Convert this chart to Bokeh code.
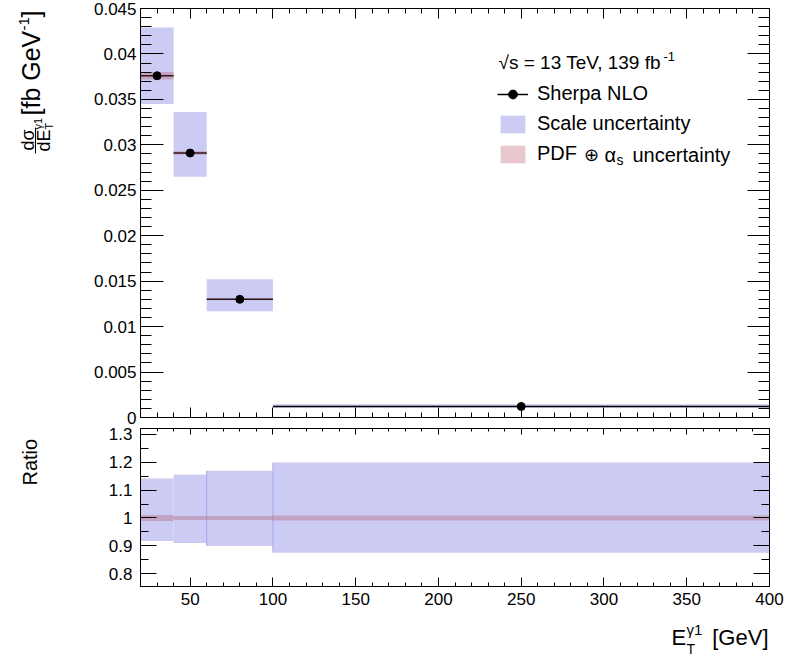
import numpy as np
from math import pi
from bokeh.plotting import figure
from bokeh.models import (Range1d, FixedTicker, LinearAxis, Label, Legend,
                          LegendItem, Arrow)
from bokeh.layouts import column, row
from bokeh.embed import file_html
from bokeh.resources import INLINE

# ---------------- data ----------------
bin_lo = [20, 40, 60, 100]
bin_hi = [40, 60, 100, 400]
bin_centre = [30, 50, 80, 250]
sherpa_nlo = [0.0376, 0.0291, 0.0130, 0.00121]
scale_up = [0.0429, 0.0336, 0.0152, 0.00145]
scale_down = [0.0345, 0.0265, 0.0117, 0.00106]
pdf_rel = [0.011, 0.007, 0.007, 0.009]

x_ticks = [50, 100, 150, 200, 250, 300, 350, 400]
x_tick_labels = ["50", "100", "150", "200", "250", "300", "350", "400"]
y_ticks_top = [0, 0.005, 0.01, 0.015, 0.02, 0.025, 0.03, 0.035, 0.04, 0.045]
y_tick_labels_top = ["0", "0.005", "0.01", "0.015", "0.02", "0.025", "0.03",
                     "0.035", "0.04", "0.045"]
ratio_ticks = [0.8, 0.9, 1.0, 1.1, 1.2, 1.3]
ratio_tick_labels = ["0.8", "0.9", "1", "1.1", "1.2", "1.3"]

FONT = "Liberation Sans"
SCALE_COL = "#cbcbf3"
SCALE_EDGE = "#a6a6ec"
PDF_COL = "#b24855"
PDF_ALPHA = 0.3

nom = np.array(sherpa_nlo)
pdf_lo = nom * (1 - np.array(pdf_rel))
pdf_hi = nom * (1 + np.array(pdf_rel))
r_up = np.array(scale_up) / nom
r_dn = np.array(scale_down) / nom
r_pdf_lo = 1 - np.array(pdf_rel)
r_pdf_hi = 1 + np.array(pdf_rel)

x_minor = [v for v in range(30, 400, 10) if v % 50 != 0]
y_minor_top = [round(v * 0.001, 3) for v in range(1, 45) if v % 5 != 0]
ratio_minor = [0.75, 0.85, 0.95, 1.05, 1.15, 1.25]

xr = Range1d(20, 400)

STRIP_W = 60          # left strip holding the rotated titles
MAIN_W = 726          # width of the two panels
FRAME_L = 140         # page x of frame left
TOP_H = 426
RAT_H = 190
BOT_H = 44
TOP_FB = 417          # page y of top frame bottom


def make_axis(ticks, minor, labels, tick_in, minor_in, show, size="18px", standoff=4):
    ax = LinearAxis(ticker=FixedTicker(ticks=ticks, minor_ticks=minor))
    ax.major_tick_in = tick_in
    ax.major_tick_out = 0
    ax.minor_tick_in = minor_in
    ax.minor_tick_out = 0
    ax.axis_line_color = "black"
    ax.major_tick_line_color = "black"
    ax.minor_tick_line_color = "black"
    ax.axis_label = None
    ax.major_label_text_font = FONT
    ax.major_label_text_color = "black"
    if show:
        ax.major_label_overrides = {t: l for t, l in zip(ticks, labels)}
        ax.major_label_text_font_size = size
        ax.major_label_standoff = standoff
    else:
        ax.major_label_overrides = {t: "" for t in ticks}
        ax.major_label_text_font_size = "1px"
        ax.major_label_standoff = 0
    return ax


def lab(p, ox, fb, text, px, py, size, angle=0.0, align="left"):
    """px, py: page position of the text start (or end) and its vertical middle."""
    p.add_layout(Label(x=px - ox, y=fb - py, x_units="screen", y_units="screen",
                       text=text, angle=angle, text_font=FONT,
                       text_font_size=f"{size}px", text_align=align,
                       text_baseline="middle", text_color="black"))


def blank_fig(w, h):
    f = figure(width=w, height=h, x_range=Range1d(0, 1), y_range=Range1d(0, 1),
               output_backend="svg", toolbar_location=None,
               x_axis_location=None, y_axis_location=None,
               min_border_left=0, min_border_right=0,
               min_border_top=0, min_border_bottom=0)
    f.outline_line_color = None
    f.grid.visible = False
    return f


# ---------------- top panel ----------------
p1 = figure(width=MAIN_W, height=TOP_H, x_range=xr, y_range=Range1d(0, 0.045),
            output_backend="svg", toolbar_location=None,
            x_axis_location=None, y_axis_location=None,
            min_border_left=FRAME_L - STRIP_W, min_border_right=17,
            min_border_top=8, min_border_bottom=9)
p1.grid.visible = False
p1.outline_line_color = "black"

p1.add_layout(make_axis(y_ticks_top, y_minor_top, y_tick_labels_top, 23, 11, True, "17px", 4), "left")
p1.add_layout(make_axis(y_ticks_top, y_minor_top, y_tick_labels_top, 22, 11, False), "right")
p1.add_layout(make_axis(x_ticks, x_minor, x_tick_labels, 10, 5, False), "below")
p1.add_layout(make_axis(x_ticks, x_minor, x_tick_labels, 10, 5, False), "above")

r_scale = p1.quad(left=bin_lo, right=bin_hi, bottom=scale_down, top=scale_up,
                  fill_color=SCALE_COL, line_color=None)
r_seg = p1.segment(x0=bin_lo, y0=sherpa_nlo, x1=bin_hi, y1=sherpa_nlo,
                   line_color="black", line_width=1.5)
r_pdf = p1.quad(left=bin_lo, right=bin_hi, bottom=pdf_lo, top=pdf_hi,
                fill_color=PDF_COL, fill_alpha=PDF_ALPHA, line_color=None)
r_pt = p1.scatter(x=bin_centre, y=sherpa_nlo, size=8, marker="circle",
                  fill_color="black", line_color="black")

legend = Legend(items=[LegendItem(label="Sherpa NLO", renderers=[r_seg, r_pt]),
                       LegendItem(label="Scale uncertainty", renderers=[r_scale]),
                       LegendItem(label="PDF", renderers=[r_pdf])],
                location=(357, 252), padding=0, margin=0, spacing=7,
                glyph_width=31, glyph_height=22, label_height=22,
                label_standoff=9, label_text_font=FONT,
                label_text_font_size="20px", label_text_color="black",
                background_fill_alpha=0, border_line_alpha=0)
p1.add_layout(legend)

# legend extras (page coordinates converted to frame-relative screen units)
lab(p1, FRAME_L, TOP_FB, "√s = 13 TeV, 139 fb", 498, 62, 19)
lab(p1, FRAME_L, TOP_FB, "-1", 663, 56, 13)
lab(p1, FRAME_L, TOP_FB, "⊕", 583, 154, 18)
lab(p1, FRAME_L, TOP_FB, "α", 604, 154, 20)
lab(p1, FRAME_L, TOP_FB, "s", 616, 159, 14)
lab(p1, FRAME_L, TOP_FB, "uncertainty", 632, 154, 20)

# ---------------- ratio panel ----------------
p2 = figure(width=MAIN_W, height=RAT_H, x_range=xr, y_range=Range1d(0.755, 1.32),
            output_backend="svg", toolbar_location=None,
            x_axis_location=None, y_axis_location=None,
            min_border_left=FRAME_L - STRIP_W, min_border_right=17,
            min_border_top=2, min_border_bottom=30)
p2.grid.visible = False
p2.outline_line_color = "black"

p2.add_layout(make_axis(ratio_ticks, ratio_minor, ratio_tick_labels, 16, 8, True, "17px", 8), "left")
p2.add_layout(make_axis(ratio_ticks, ratio_minor, ratio_tick_labels, 16, 8, False), "right")
p2.add_layout(make_axis(x_ticks, x_minor, x_tick_labels, 9, 4, True, "17px", 6), "below")
p2.add_layout(make_axis(x_ticks, x_minor, x_tick_labels, 6, 3, False), "above")

p2.quad(left=bin_lo, right=bin_hi, bottom=r_dn, top=r_up,
        fill_color=SCALE_COL, line_color=None)
p2.segment(x0=bin_lo[2:], y0=r_dn[2:], x1=bin_lo[2:], y1=r_up[2:],
           line_color=SCALE_EDGE, line_width=1)
p2.quad(left=bin_lo, right=bin_hi, bottom=r_pdf_lo, top=r_pdf_hi,
        fill_color=PDF_COL, fill_alpha=PDF_ALPHA, line_color=None)

# ---------------- left strip: rotated axis titles ----------------
STRIP_H = TOP_H + RAT_H
L = blank_fig(STRIP_W, STRIP_H)
A = pi / 2
lab(L, 0, STRIP_H, "dσ", 27, 150, 18, angle=A)
L.add_layout(Arrow(start=None, end=None,
                   x_start=35, y_start=STRIP_H - 127,
                   x_end=35, y_end=STRIP_H - 153,
                   start_units="screen", end_units="screen",
                   line_color="black", line_width=1))
lab(L, 0, STRIP_H, "dE", 43, 151, 18, angle=A)
lab(L, 0, STRIP_H, "γ1", 37, 129, 11, angle=A)
lab(L, 0, STRIP_H, "T", 48, 129, 11, angle=A)
lab(L, 0, STRIP_H, "[fb GeV", 30, 115, 25, angle=A)
lab(L, 0, STRIP_H, "-1", 23, 30, 15, angle=A)
lab(L, 0, STRIP_H, "]", 30, 17, 25, angle=A)
lab(L, 0, STRIP_H, "Ratio", 29, 485, 20, angle=A)

# ---------------- bottom strip: x-axis title ----------------
B = blank_fig(STRIP_W + MAIN_W, BOT_H)
BOT_BOTTOM = STRIP_H + BOT_H
lab(B, 0, BOT_BOTTOM, "E", 671, 637, 22)
lab(B, 0, BOT_BOTTOM, "γ1", 686, 629, 15)
lab(B, 0, BOT_BOTTOM, "T", 686, 648, 14)
lab(B, 0, BOT_BOTTOM, "[GeV]", 768, 637, 22, align="right")

layout = column(row(L, column(p1, p2, spacing=0), spacing=0), B, spacing=0)
open("out.html", "w").write(file_html(layout, INLINE))
